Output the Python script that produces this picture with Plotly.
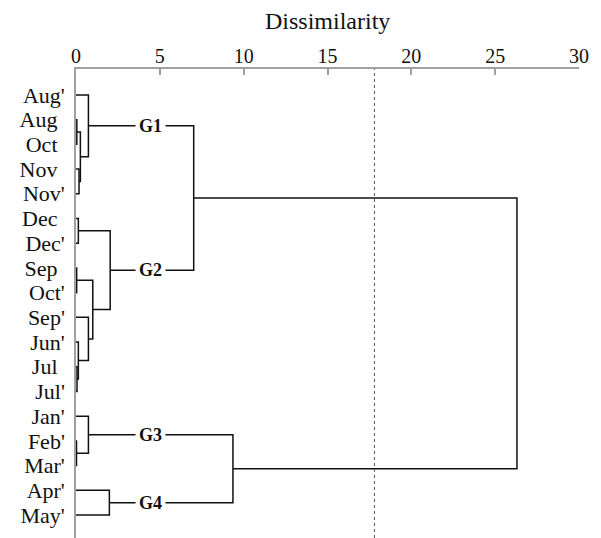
import plotly.graph_objects as go

# Leaves, top to bottom
leaf_labels = ["Aug'", "Aug", "Oct", "Nov", "Nov'", "Dec", "Dec'", "Sep", "Oct'",
               "Sep'", "Jun'", "Jul", "Jul'", "Jan'", "Feb'", "Mar'", "Apr'", "May'"]

# Linkage: node ids 0..17 are leaves, each merge creates node 18, 19, ...
merge_left = [1, 3, 18, 0, 5, 7, 11, 10, 9, 23, 22, 21, 14, 13, 16, 31, 29]
merge_right = [2, 4, 19, 20, 6, 8, 12, 24, 25, 26, 27, 28, 15, 30, 17, 32, 33]
merge_height = [0.05, 0.18, 0.26, 0.74, 0.14, 0.04, 0.06, 0.14, 0.74, 1.00,
                2.04, 7.02, 0.03, 0.74, 1.99, 9.36, 26.3]

# Named clusters and the merge node that defines each
group_names = ["G1", "G2", "G3", "G4"]
group_nodes = [21, 28, 31, 32]

cut_height = 17.8
x_ticks = [0, 5, 10, 15, 20, 25, 30]

FONT = "Liberation Serif"
LINE = "#111111"
AXIS = "#a0a0a0"

n_leaves = len(leaf_labels)
node_x = [0.0] * n_leaves
node_y = [float(i) for i in range(n_leaves)]

xs, ys = [], []
for a, b, h in zip(merge_left, merge_right, merge_height):
    xs += [node_x[a], h, h, node_x[b], None]
    ys += [node_y[a], node_y[a], node_y[b], node_y[b], None]
    node_x.append(h)
    node_y.append((node_y[a] + node_y[b]) / 2)

fig = go.Figure()
fig.add_trace(go.Scatter(x=xs, y=ys, mode="lines",
                         line=dict(color=LINE, width=1.5),
                         hoverinfo="skip", showlegend=False))

# cut-off level
fig.add_shape(type="line", x0=cut_height, x1=cut_height, y0=0, y1=1,
              xref="x", yref="paper",
              line=dict(color="#555555", width=1, dash="dot"))

# cluster labels sitting on the branch lines
label_x = 4.43
for name, node in zip(group_names, group_nodes):
    fig.add_annotation(x=label_x, y=node_y[node], text="<b>" + name + "</b>",
                       showarrow=False, bgcolor="white", borderpad=3,
                       font=dict(family=FONT, size=18, color="#111111"))

fig.add_annotation(x=15, y=1, xref="x", yref="paper", yanchor="middle",
                   yshift=48, text="Dissimilarity", showarrow=False,
                   font=dict(family=FONT, size=24, color="#111111"))

# pad unprimed names so the primes hang past the common right edge
tick_text = [t if t.endswith("'") else t + "\u2004" for t in leaf_labels]

fig.update_layout(
    width=601, height=538,
    margin=dict(l=76, r=22, t=69, b=0),
    paper_bgcolor="white", plot_bgcolor="white",
    font=dict(family=FONT, color="#111111"),
    xaxis=dict(range=[0, 30], side="top", tickvals=x_ticks,
               ticks="inside", ticklen=6, tickcolor=AXIS, tickwidth=1.5,
               showline=True, linecolor=AXIS, linewidth=1.5,
               showgrid=False, zeroline=False,
               tickfont=dict(family=FONT, size=20, color="#111111"),
               ticklabelstandoff=-4),
    yaxis=dict(range=[17.93, -1.05], tickvals=list(range(n_leaves)),
               ticktext=tick_text, ticks="",
               showline=True, linecolor=AXIS, linewidth=1.5,
               showgrid=False, zeroline=False,
               tickfont=dict(family=FONT, size=22, color="#111111"),
               ticklabelstandoff=5),
)

fig.write_html("out.html")
